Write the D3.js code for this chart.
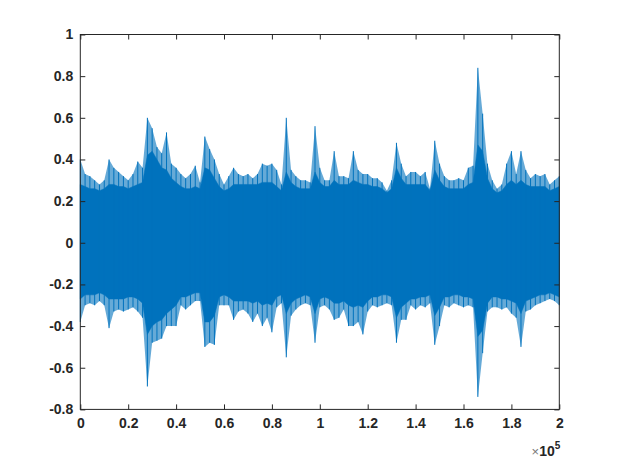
<!DOCTYPE html>
<html>
<head>
<meta charset="utf-8">
<script src="https://cdn.jsdelivr.net/npm/d3@7"></script>
<style>
  body { margin: 0; background: #fff; }
  svg { display: block; }
</style>
</head>
<body>
<div id="canvas"></div>
<script>
"use strict"

// peak envelope of the signal, one value every 2000 samples
let upperEnv = [
  0.40, 0.33, 0.32, 0.30, 0.28, 0.30, 0.40, 0.36, 0.34, 0.32,
  0.30, 0.33, 0.39, 0.36, 0.60, 0.55, 0.46, 0.43, 0.53, 0.38,
  0.36, 0.33, 0.31, 0.33, 0.37, 0.29, 0.51, 0.45, 0.40, 0.33,
  0.28, 0.32, 0.36, 0.33, 0.32, 0.33, 0.31, 0.33, 0.38, 0.37,
  0.38, 0.35, 0.28, 0.60, 0.35, 0.32, 0.30, 0.30, 0.29, 0.56,
  0.36, 0.30, 0.30, 0.44, 0.32, 0.32, 0.31, 0.44, 0.35, 0.33,
  0.33, 0.31, 0.31, 0.29, 0.25, 0.30, 0.48, 0.38, 0.32, 0.34,
  0.34, 0.32, 0.34, 0.26, 0.49, 0.38, 0.32, 0.30, 0.30, 0.31,
  0.30, 0.36, 0.37, 0.84, 0.62, 0.38, 0.30, 0.26, 0.28, 0.38,
  0.44, 0.33, 0.44, 0.35, 0.31, 0.33, 0.32, 0.33, 0.28, 0.30,
  0.32
];
let lowerEnv = [
  -0.38, -0.30, -0.29, -0.30, -0.28, -0.30, -0.41, -0.33, -0.32, -0.33,
  -0.32, -0.31, -0.33, -0.36, -0.69, -0.48, -0.47, -0.46, -0.40, -0.40,
  -0.40, -0.30, -0.32, -0.30, -0.28, -0.28, -0.50, -0.48, -0.49, -0.30,
  -0.30, -0.30, -0.37, -0.33, -0.32, -0.34, -0.38, -0.34, -0.40, -0.36,
  -0.43, -0.31, -0.29, -0.55, -0.35, -0.32, -0.30, -0.29, -0.30, -0.48,
  -0.31, -0.30, -0.32, -0.37, -0.36, -0.32, -0.40, -0.40, -0.38, -0.44,
  -0.33, -0.30, -0.31, -0.30, -0.29, -0.30, -0.48, -0.37, -0.37, -0.30,
  -0.32, -0.30, -0.31, -0.29, -0.49, -0.40, -0.30, -0.31, -0.29, -0.30,
  -0.31, -0.30, -0.31, -0.74, -0.53, -0.33, -0.31, -0.31, -0.32, -0.31,
  -0.34, -0.36, -0.50, -0.33, -0.32, -0.30, -0.29, -0.28, -0.27, -0.28,
  -0.30
];
// level up to which the trace is solid (dense body), same sample grid
let upperBody = [
  0.28, 0.27, 0.26, 0.26, 0.25, 0.26, 0.28, 0.28, 0.27, 0.27,
  0.26, 0.27, 0.28, 0.29, 0.42, 0.44, 0.40, 0.36, 0.35, 0.31,
  0.29, 0.27, 0.26, 0.26, 0.27, 0.26, 0.36, 0.35, 0.31, 0.27,
  0.25, 0.26, 0.28, 0.28, 0.28, 0.28, 0.28, 0.28, 0.29, 0.29,
  0.29, 0.27, 0.25, 0.34, 0.29, 0.27, 0.26, 0.26, 0.26, 0.34,
  0.29, 0.27, 0.27, 0.30, 0.28, 0.28, 0.28, 0.30, 0.29, 0.28,
  0.28, 0.27, 0.27, 0.26, 0.24, 0.26, 0.36, 0.31, 0.28, 0.28,
  0.28, 0.28, 0.28, 0.25, 0.35, 0.30, 0.27, 0.26, 0.26, 0.26,
  0.26, 0.28, 0.29, 0.47, 0.44, 0.31, 0.26, 0.24, 0.25, 0.28,
  0.30, 0.28, 0.30, 0.28, 0.27, 0.27, 0.27, 0.27, 0.25, 0.26,
  0.27
];
let lowerBody = [
  -0.27, -0.25, -0.25, -0.25, -0.24, -0.25, -0.27, -0.27, -0.27, -0.27,
  -0.26, -0.26, -0.27, -0.29, -0.44, -0.40, -0.38, -0.37, -0.34, -0.32,
  -0.30, -0.26, -0.26, -0.25, -0.24, -0.24, -0.38, -0.38, -0.35, -0.26,
  -0.25, -0.26, -0.28, -0.28, -0.28, -0.28, -0.29, -0.28, -0.30, -0.29,
  -0.30, -0.26, -0.25, -0.34, -0.29, -0.27, -0.26, -0.25, -0.26, -0.34,
  -0.27, -0.26, -0.27, -0.29, -0.29, -0.28, -0.30, -0.31, -0.30, -0.31,
  -0.28, -0.26, -0.26, -0.25, -0.25, -0.26, -0.36, -0.31, -0.29, -0.27,
  -0.27, -0.26, -0.26, -0.25, -0.35, -0.31, -0.26, -0.26, -0.25, -0.25,
  -0.26, -0.26, -0.27, -0.45, -0.42, -0.29, -0.26, -0.26, -0.27, -0.27,
  -0.28, -0.29, -0.34, -0.28, -0.27, -0.26, -0.25, -0.25, -0.24, -0.25,
  -0.26
];
let sampleStep = 2000;

let xTicks = [0, 20000, 40000, 60000, 80000, 100000, 120000, 140000, 160000, 180000, 200000];
let xTickLabels = ["0", "0.2", "0.4", "0.6", "0.8", "1", "1.2", "1.4", "1.6", "1.8", "2"];
let yTicks = [-0.8, -0.6, -0.4, -0.2, 0, 0.2, 0.4, 0.6, 0.8, 1];
let yTickLabels = ["-0.8", "-0.6", "-0.4", "-0.2", "0", "0.2", "0.4", "0.6", "0.8", "1"];

let drawingWidth = 618;
let drawingHeight = 460;
let plotLeft = 80.3, plotRight = 559.3, plotTop = 34.5, plotBottom = 409.4;
let axisColor = "#262626";
let lineColor = "#0072bd";

let drawing = d3.select("#canvas")
    .append("svg")
    .attr("width", drawingWidth)
    .attr("height", drawingHeight);

let x = d3.scaleLinear().domain([0, 200000]).range([plotLeft, plotRight]);
let y = d3.scaleLinear().domain([-0.8, 1]).range([plotBottom, plotTop]);

let points = upperEnv.map((u, i) => ({
    s: i * sampleStep, hi: u, lo: lowerEnv[i], bodyHi: upperBody[i], bodyLo: lowerBody[i]
}));

// faint fringe between body and peaks (antialiased thin strokes in the original)
let fringe = drawing.append("path")
    .datum(points)
    .attr("d", d3.area()
        .x(d => x(d.s))
        .y0(d => y(d.lo))
        .y1(d => y(d.hi)))
    .attr("fill", lineColor)
    .attr("fill-opacity", 0.6);

// dense body of the signal
let body = drawing.append("path")
    .datum(points)
    .attr("d", d3.area()
        .x(d => x(d.s))
        .y0(d => y(d.bodyLo))
        .y1(d => y(d.bodyHi)))
    .attr("fill", lineColor)
    .attr("stroke", lineColor)
    .attr("stroke-width", 0.5);

// peaks poking out of the body, thin vertical strokes
let peaks = drawing.append("g")
    .selectAll("line")
    .data(points)
    .join("line")
    .attr("x1", d => x(d.s))
    .attr("x2", d => x(d.s))
    .attr("y1", d => y(d.lo))
    .attr("y2", d => y(d.hi))
    .attr("stroke", lineColor)
    .attr("stroke-width", 1);

// axes, ticks pointing inward
let fontStyle = g => g.selectAll("text")
    .attr("font-family", "Liberation Sans, Arial, sans-serif")
    .attr("font-size", 14)
    .attr("font-weight", "bold")
    .attr("fill", axisColor);

let xAxis = drawing.append("g")
    .attr("transform", `translate(0,${plotBottom})`)
    .call(d3.axisBottom(x).tickValues(xTicks)
        .tickFormat((d, i) => xTickLabels[i])
        .tickSizeInner(-5).tickSizeOuter(0).tickPadding(9))
    .call(fontStyle);

let xAxisTop = drawing.append("g")
    .attr("transform", `translate(0,${plotTop})`)
    .call(d3.axisTop(x).tickValues(xTicks).tickFormat("")
        .tickSizeInner(-5).tickSizeOuter(0));

let yAxis = drawing.append("g")
    .attr("transform", `translate(${plotLeft},0)`)
    .call(d3.axisLeft(y).tickValues(yTicks)
        .tickFormat((d, i) => yTickLabels[i])
        .tickSizeInner(-5).tickSizeOuter(0).tickPadding(7))
    .call(fontStyle);

let yAxisRight = drawing.append("g")
    .attr("transform", `translate(${plotRight},0)`)
    .call(d3.axisRight(y).tickValues(yTicks).tickFormat("")
        .tickSizeInner(-5).tickSizeOuter(0));

drawing.selectAll(".domain").remove();
drawing.selectAll(".tick line").attr("stroke", axisColor);

let box = drawing.append("rect")
    .attr("x", plotLeft)
    .attr("y", plotTop)
    .attr("width", plotRight - plotLeft)
    .attr("height", plotBottom - plotTop)
    .attr("fill", "none")
    .attr("stroke", axisColor)
    .attr("stroke-width", 1);

// exponent label
let expo = drawing.append("text")
    .attr("x", plotRight + 1)
    .attr("y", 456)
    .attr("text-anchor", "end")
    .attr("font-family", "Liberation Sans, Arial, sans-serif")
    .attr("fill", axisColor);
expo.append("tspan").attr("font-size", 13).attr("fill", "#777").text("\u00d7");
expo.append("tspan").attr("font-size", 14).attr("font-weight", "bold").text("10");
expo.append("tspan").attr("font-size", 10).attr("font-weight", "bold").attr("dy", -7).text("5");
</script>
</body>
</html>
